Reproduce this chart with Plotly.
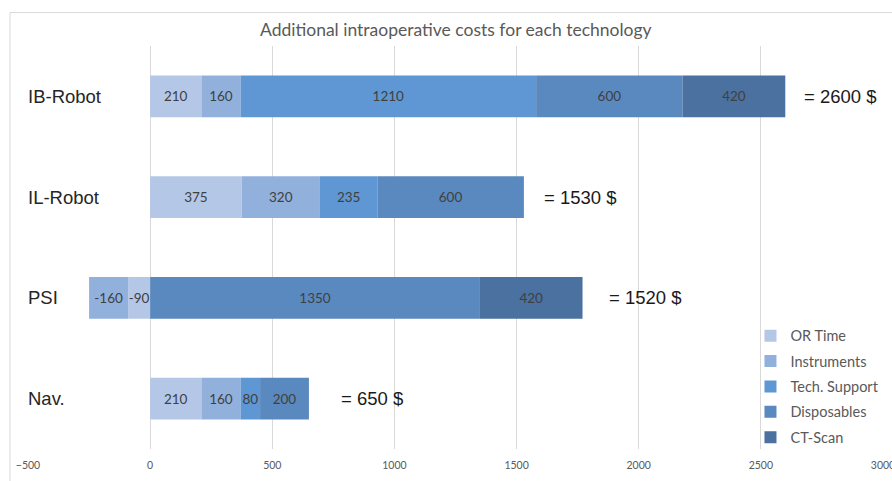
import plotly.graph_objects as go

# Technologies (top to bottom) and cost components in $
technologies = ["IB-Robot", "IL-Robot", "PSI", "Nav."]
or_time = [210, 375, -90, 210]
instruments = [160, 320, -160, 160]
tech_support = [1210, 235, None, 80]
disposables = [600, 600, 1350, 200]
ct_scan = [420, None, 420, None]

series_names = ["OR Time", "Instruments", "Tech. Support", "Disposables", "CT-Scan"]
series_values = [or_time, instruments, tech_support, disposables, ct_scan]
series_colors = ["#b4c7e7", "#91b1dc", "#5f97d4", "#5a89bf", "#4a719f"]

# horizontal pixel gap between each bar end and its total label
total_label_gap = [17, 18, 24, 30]

fig = go.Figure()
for name, vals, col in zip(series_names, series_values, series_colors):
    fig.add_trace(go.Bar(
        y=technologies, x=vals, name=name, orientation="h",
        legendgroup=name,
        marker=dict(color=col, line=dict(width=0)),
        text=[("" if v is None else str(v)) for v in vals],
        textposition="inside", insidetextanchor="middle", textangle=0,
        constraintext="none",
        insidetextfont=dict(family="Lato", size=13.5, color="#404040"),
        hoverinfo="x+name",
    ))

annotations = []
for i, tech in enumerate(technologies):
    row = [s[i] for s in series_values if s[i] is not None]
    total = sum(row)
    pos_end = sum(v for v in row if v > 0)
    annotations.append(dict(
        x=pos_end, y=tech, xref="x", yref="y", text=f"= {total} $",
        showarrow=False, xanchor="left", xshift=total_label_gap[i],
        font=dict(family="Liberation Sans", size=18.5, color="#1a1a1a"),
    ))
    annotations.append(dict(
        x=-500, y=tech, xref="x", yref="y", text=tech,
        showarrow=False, xanchor="left", xshift=-2,
        font=dict(family="Liberation Sans", size=18.5, color="#262626"),
    ))

annotations.append(dict(
    x=0.5, y=1.0, xref="paper", yref="paper", yanchor="bottom", yshift=4,
    text="Additional intraoperative costs for each technology", showarrow=False,
    font=dict(family="Lato", size=17.5, color="#595959"),
))

fig.update_layout(
    width=892, height=481,
    margin=dict(l=28, r=9, t=45.5, b=31.5, autoexpand=False),
    paper_bgcolor="white", plot_bgcolor="white",
    barmode="relative", bargap=0.585,
    showlegend=True,
    legend=dict(
        x=0.845, y=-0.012, xanchor="left", yanchor="bottom",
        bgcolor="rgba(0,0,0,0)", traceorder="grouped", tracegroupgap=3.5,
        font=dict(family="Lato", size=14.5, color="#595959"),
        itemwidth=30,
    ),
    annotations=annotations,
    shapes=[dict(
        type="rect", xref="paper", yref="paper",
        x0=-0.021, x1=1.2, y0=-0.3, y1=1.083,
        line=dict(color="#d9d9d9", width=1), fillcolor="rgba(0,0,0,0)", layer="below",
    )],
)
fig.update_xaxes(
    range=[-500, 3000], dtick=500, tick0=0, automargin=False,
    ticklabeloverflow="allow", ticklabelstandoff=8,
    showgrid=True, gridcolor="#d9d9d9", gridwidth=1,
    zeroline=True, zerolinecolor="#d9d9d9", zerolinewidth=1,
    showline=False, ticks="",
    tickfont=dict(family="Lato", size=10.5, color="#595959"),
)
fig.update_yaxes(
    categoryorder="array", categoryarray=technologies, autorange="reversed",
    automargin=False,
    showticklabels=False, showgrid=False, zeroline=False, showline=False,
)

fig.write_html("out.html")
